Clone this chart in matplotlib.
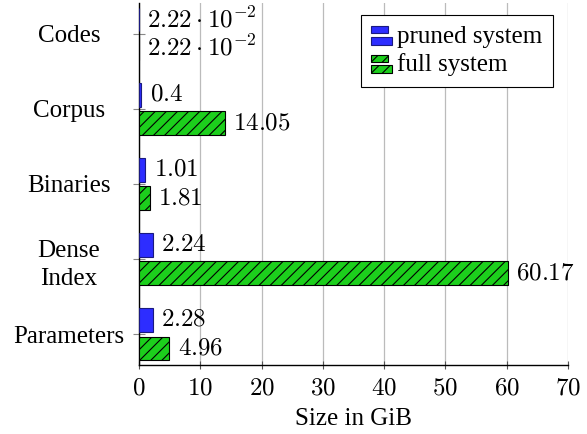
import matplotlib
matplotlib.use("Agg")
import matplotlib.pyplot as plt
from matplotlib.legend_handler import HandlerBase
from matplotlib.patches import Rectangle
from matplotlib.ticker import FuncFormatter, FixedLocator
import numpy as np

categories = ["Codes", "Corpus", "Binaries", "Dense\nIndex", "Parameters"]
pruned = [0.0222, 0.4, 1.01, 2.24, 2.28]
full = [0.0222, 14.05, 1.81, 60.17, 4.96]
series_names = ["pruned system", "full system"]
xticks = [0, 10, 20, 30, 40, 50, 60, 70]

plt.rcParams['font.family'] = ['Liberation Serif', 'DejaVu Serif']
plt.rcParams['mathtext.fontset'] = 'cm'
plt.rcParams['hatch.linewidth'] = 0.8

BLUE = '#2d2dff'
GREEN = '#1ccf1c'

fig = plt.figure(figsize=(5.87, 4.34), dpi=100)
ax = fig.add_axes([139/587, 69/434, (568-139)/587, (365-3)/434])

y = np.arange(len(categories))
h = 0.318
off = 0.19
b1 = ax.barh(y - off, pruned, height=h, color=BLUE, edgecolor='#1a1a80', linewidth=0.8, zorder=3)
b2 = ax.barh(y + off, full, height=h, color=GREEN, edgecolor='black', hatch='///', linewidth=0.8, zorder=3)

def fmt(v):
    if v < 0.1:
        e = int(np.floor(np.log10(v)))
        m = v / 10**e
        return r'$%.2f\cdot10^{%d}$' % (m, e)
    return r'$%g$' % v

for bars, vals in ((b1, pruned), (b2, full)):
    ax.bar_label(bars, labels=[fmt(v) for v in vals], padding=6, fontsize=18)

ax.set_xlim(0, 70)
ax.set_ylim(4.41, -0.41)
ax.xaxis.set_major_locator(FixedLocator(xticks))
ax.xaxis.set_major_formatter(FuncFormatter(lambda v, p: r'$%d$' % v))
ax.set_yticks(y)
ax.set_yticklabels(categories, fontsize=18)
for t in ax.get_yticklabels():
    t.set_horizontalalignment('center')
    t.set_multialignment('center')
    t.set_linespacing(1.35)
ax.tick_params(axis='x', labelsize=18, direction='inout', length=6, color='#555555', width=0.8, pad=6)
ax.tick_params(axis='y', direction='inout', length=8, color='#888888', width=0.8, pad=46.5)
ax.grid(axis='x', color='#bbbbbb', linewidth=0.9, zorder=0)
ax.set_axisbelow(True)
for s in ('top', 'right'):
    ax.spines[s].set_visible(False)
ax.spines['left'].set_linewidth(1.0)
ax.spines['bottom'].set_linewidth(1.0)
ax.set_xlabel('Size in GiB', fontsize=18, labelpad=6)


class BarHandler(HandlerBase):
    def __init__(self, color, edge, hatch=None):
        super().__init__()
        self.color, self.edge, self.hatch = color, edge, hatch

    def create_artists(self, legend, orig_handle, xdescent, ydescent, width, height, fontsize, trans):
        r1 = Rectangle((0, height * 0.55), width * 0.8, height * 0.4, facecolor=self.color,
                       edgecolor=self.edge, hatch=self.hatch, linewidth=0.8, transform=trans)
        r2 = Rectangle((0, -height * 0.1), width, height * 0.45, facecolor=self.color,
                       edgecolor=self.edge, hatch=self.hatch, linewidth=0.8, transform=trans)
        return [r1, r2]

h1 = Rectangle((0, 0), 1, 1)
h2 = Rectangle((0, 0), 1, 1)
leg = ax.legend([h1, h2], series_names, loc='upper right', bbox_to_anchor=(553/587, 1 - 15/434),
                bbox_transform=fig.transFigure, fontsize=18, frameon=True, fancybox=False,
                edgecolor='black', framealpha=1, borderpad=0.42, labelspacing=0.22,
                handlelength=0.85, handletextpad=0.2, borderaxespad=0,
                handler_map={h1: BarHandler(BLUE, '#1a1a80'), h2: BarHandler(GREEN, 'black', '///')})
leg.get_frame().set_linewidth(0.8)

fig.savefig('out.png', dpi=100)
